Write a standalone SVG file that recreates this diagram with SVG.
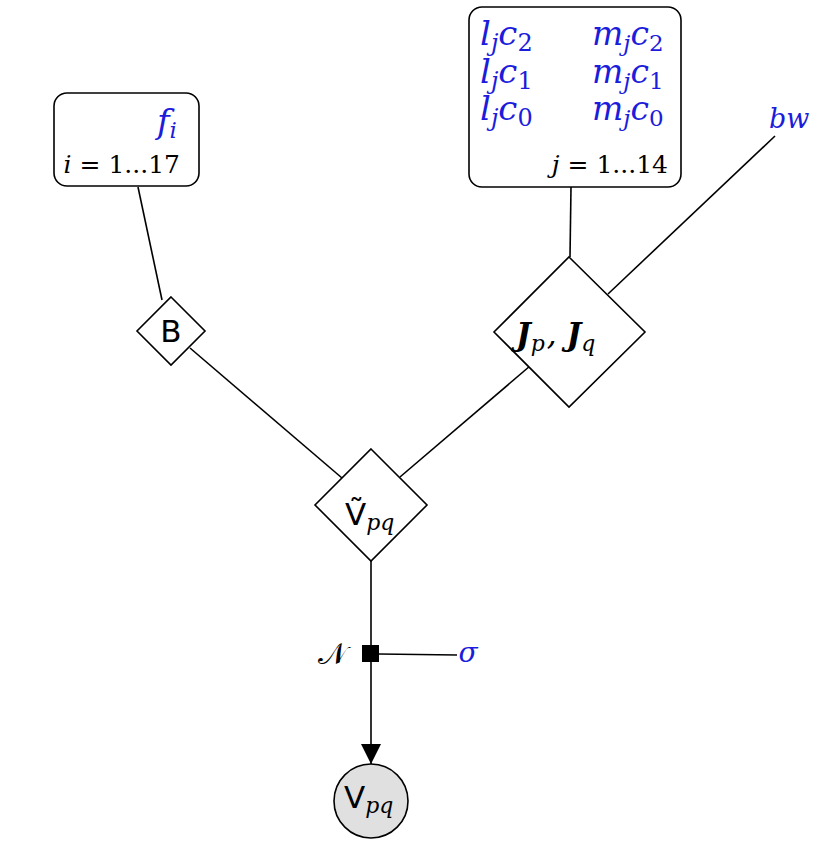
<svg xmlns="http://www.w3.org/2000/svg" width="830" height="857" viewBox="0 0 830 857">
<defs>
<style>
.ln{stroke:#000;stroke-width:1.6;fill:none}
.nd{stroke:#000;stroke-width:1.6;fill:#fff}
.m{font-family:"DejaVu Serif","Liberation Serif",serif;font-style:italic}
.r{font-family:"DejaVu Serif","Liberation Serif",serif;font-style:normal}
.s{font-family:"DejaVu Sans","Liberation Sans",sans-serif}
.b{fill:#1c1cdc}
</style>
<marker id="ah" viewBox="0 0 20 24" refX="20" refY="10" markerWidth="20" markerHeight="24" markerUnits="userSpaceOnUse" orient="auto">
<path d="M0,0 L20,10 L0,20 Z" fill="#000"/>
</marker>
</defs>
<rect width="830" height="857" fill="#fff"/>
<g id="connectors">
<line class="ln" x1="138" y1="187" x2="162" y2="300"/>
<line class="ln" x1="190" y1="348" x2="342" y2="478"/>
<line class="ln" x1="530" y1="366" x2="400" y2="477"/>
<line class="ln" x1="571" y1="187" x2="570" y2="257"/>
<line class="ln" x1="775" y1="136" x2="608" y2="294"/>
<line class="ln" x1="371" y1="561" x2="371" y2="646"/>
<line class="ln" x1="371" y1="662" x2="371" y2="764" marker-end="url(#ah)"/>
<line class="ln" x1="379" y1="654" x2="457" y2="655"/>
</g>
<g id="plate_f">
<rect class="nd" x="54" y="93" width="145" height="93" rx="13"/>
<text class="m b" x="157" y="133" font-size="34">f<tspan font-size="23" dy="5">i</tspan></text>
<text class="r" x="180" y="173" font-size="25" text-anchor="end"><tspan class="m">i</tspan> = 1...17</text>
</g>
<g id="plate_lm">
<rect class="nd" x="469" y="7" width="212" height="180" rx="13"/>
<text class="m b" x="480" y="45" font-size="34">l<tspan font-size="24" dy="6">j</tspan><tspan dy="-6">c</tspan><tspan class="r" font-size="24" dy="6">2</tspan></text>
<text class="m b" x="480" y="83" font-size="34">l<tspan font-size="24" dy="6">j</tspan><tspan dy="-6">c</tspan><tspan class="r" font-size="24" dy="6">1</tspan></text>
<text class="m b" x="480" y="120" font-size="34">l<tspan font-size="24" dy="6">j</tspan><tspan dy="-6">c</tspan><tspan class="r" font-size="24" dy="6">0</tspan></text>
<text class="m b" x="592" y="45" font-size="33">m<tspan font-size="23" dy="6">j</tspan><tspan dy="-6">c</tspan><tspan class="r" font-size="23" dy="6">2</tspan></text>
<text class="m b" x="592" y="83" font-size="33">m<tspan font-size="23" dy="6">j</tspan><tspan dy="-6">c</tspan><tspan class="r" font-size="23" dy="6">1</tspan></text>
<text class="m b" x="592" y="120" font-size="33">m<tspan font-size="23" dy="6">j</tspan><tspan dy="-6">c</tspan><tspan class="r" font-size="23" dy="6">0</tspan></text>
<text class="r" x="668" y="173" font-size="25" text-anchor="end"><tspan class="m">j</tspan> = 1...14</text>
</g>
<g id="bw">
<text class="m b" x="769" y="128" font-size="27">bw</text>
</g>
<g id="B">
<polygon class="nd" points="171,297 205,331 171,365 137,331"/>
<text class="s" x="171" y="342" font-size="31" text-anchor="middle">B</text>
</g>
<g id="J">
<polygon class="nd" points="569,257 645,332 569,407 494,332"/>
<text class="m" x="516" y="345" font-size="31" font-weight="bold">J<tspan font-weight="normal" font-size="22" dy="6">p</tspan><tspan font-weight="normal" dx="2" dy="-6">, </tspan>J<tspan font-weight="normal" font-size="22" dy="6">q</tspan></text>
</g>
<g id="Vt">
<polygon class="nd" points="371,449 427,505 371,561 315,505"/>
<text class="s" x="345" y="525" font-size="31">Ṽ<tspan class="m" font-size="22" dy="5">pq</tspan></text>
</g>
<g id="factor">
<rect x="362" y="645" width="17" height="17" fill="#000"/>
<text class="r" x="332" y="664" font-size="30" text-anchor="middle">𝒩</text>
<text class="m b" x="468" y="662" font-size="28" text-anchor="middle">σ</text>
</g>
<g id="V">
<circle cx="371" cy="801" r="37" fill="#e0e0e0" stroke="#000" stroke-width="1.6"/>
<text class="s" x="344" y="808" font-size="31">V<tspan class="m" font-size="22" dy="5">pq</tspan></text>
</g>
</svg>
